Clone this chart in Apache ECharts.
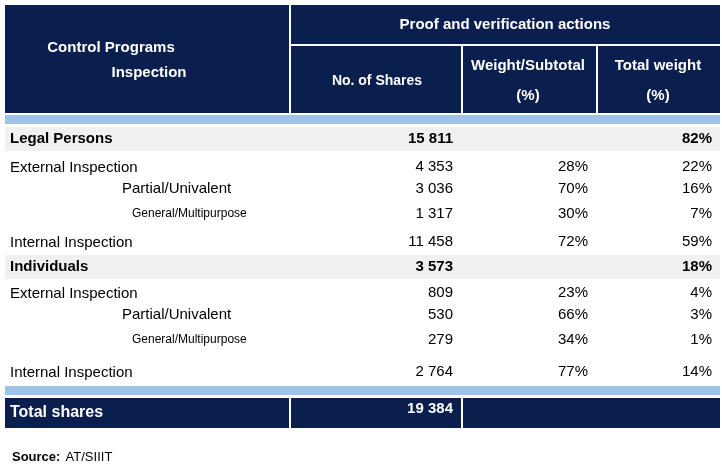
<!DOCTYPE html>
<html><head><meta charset="utf-8">
<script src="https://cdn.jsdelivr.net/npm/echarts@6/dist/echarts.min.js"></script>
<style>html,body{margin:0;padding:0;background:#fff}#c{width:722px;height:471px}</style>
</head><body><div id="c"></div>
<script>
const rowLabels = ["Legal Persons","External Inspection","Partial/Univalent","General/Multipurpose","Internal Inspection","Individuals","External Inspection","Partial/Univalent","General/Multipurpose","Internal Inspection"];
const shares = ["15 811","4 353","3 036","1 317","11 458","3 573","809","530","279","2 764"];
const weightSubtotal = ["","28%","70%","30%","72%","","23%","66%","34%","77%"];
const totalWeight = ["82%","22%","16%","7%","59%","18%","4%","3%","1%","14%"];
const totalLabel = "Total shares";
const totalShares = "19 384";
const headers = {left:["Control Programs","Inspection"], group:"Proof and verification actions", c1:"No. of Shares", c2:["Weight/Subtotal","(%)"], c3:["Total weight","(%)"]};
const source = ["Source:"," AT/SIIIT"];

const kind = ["group","main","sub","sub2","main","group","main","sub","sub2","main"];
const rowY = [139,167,189,214,242,267,293,315,340,372];
const NAVY="#0b1f4e", BLUE="#9dc3e6", GRAY="#f0f0f0", FONT="Liberation Sans, Arial, sans-serif";
const g=[];
function rect(x,y,w,h,fill){g.push({type:'rect',shape:{x,y,width:w,height:h},style:{fill},silent:true});}
function text(t,x,y,opt){g.push({type:'text',x,y,style:Object.assign({text:t,fill:'#000',font:'15px '+FONT,textAlign:'left',textVerticalAlign:'middle'},opt||{}),silent:true});}
rect(5,5,715,108,NAVY);
rect(289,5,2,108,'#fff');rect(461,45,2,68,'#fff');rect(596,45,2,68,'#fff');rect(291,44,429,2,'#fff');
const wb={fill:'#fff',font:'bold 15px '+FONT,textAlign:'center'};
text(headers.left[0],111,48,wb);text(headers.left[1],149,73,wb);
text(headers.group,505,25,wb);
text(headers.c1,377,81,Object.assign({},wb,{font:'bold 14px '+FONT}));
text(headers.c2[0],528,66,wb);text(headers.c2[1],528,96,wb);
text(headers.c3[0],658,66,wb);text(headers.c3[1],658,96,wb);
rect(5,115,715,9,BLUE);
rowLabels.forEach((l,i)=>{
  const y=rowY[i],k=kind[i];
  if(k==="group") rect(5,y-12,715,24,GRAY);
  const bold=k==="group";
  const f=(bold?'bold ':'')+(k==="sub2"?'12px ':'15px ')+FONT;
  const x=k==="sub"?122:k==="sub2"?132:10;
  const dy=(k==="main")?1:0;
  text(l,x,y+dy,{font:f});
  const nf=(bold?'bold ':'')+'15px '+FONT;
  text(shares[i],453,y,{font:nf,textAlign:'right'});
  text(weightSubtotal[i],588,y,{font:nf,textAlign:'right'});
  text(totalWeight[i],712,y,{font:nf,textAlign:'right'});
});
rect(5,386,715,9,BLUE);
rect(5,398,715,30,NAVY);
rect(289,398,2,30,'#fff');rect(461,398,2,30,'#fff');
text(totalLabel,10,413,{fill:'#fff',font:'bold 16px '+FONT});
text(totalShares,453,409,{fill:'#fff',font:'bold 15px '+FONT,textAlign:'right'});
text(source[0],12,457,{font:'bold 13px '+FONT});
text(source[1],62,457,{font:'13px '+FONT});
const chart=echarts.init(document.getElementById('c'));
chart.setOption({animation:false,graphic:g});
</script></body></html>
